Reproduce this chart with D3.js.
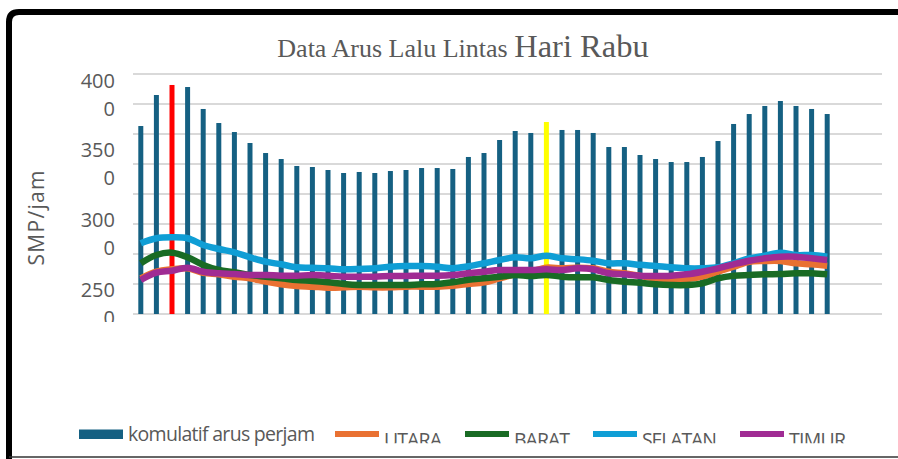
<!DOCTYPE html>
<html><head><meta charset="utf-8">
<script src="https://cdn.jsdelivr.net/npm/d3@7"></script>
<style>body{margin:0;background:#fff;} svg{display:block;}</style>
</head><body>
<svg id="chart" width="898" height="459"></svg>
<script>
// ---- data ----
const periods = [1,2,3,4,5,6,7,8,9,10,11,12,13,14,15,16,17,18,19,20,21,22,23,24,25,26,27,28,29,30,31,32,33,34,35,36,37,38,39,40,41,42,43,44,45];
const komulatif = [3133,3650,3817,3783,3417,3183,3033,2850,2683,2583,2467,2450,2400,2350,2367,2350,2383,2400,2433,2433,2417,2617,2683,2900,3050,3017,3200,3067,3067,3017,2783,2783,2650,2583,2533,2533,2617,2883,3167,3333,3467,3550,3467,3417,3333];
const utara   = [595,705,745,761,688,661,622,595,539,495,467,456,439,444,456,444,444,456,456,456,472,500,528,595,661,705,772,761,772,761,705,678,636,595,578,583,622,705,788,872,883,883,845,828,805];
const barat   = [845,983,1022,945,817,733,695,650,622,595,565,550,528,500,483,483,483,483,495,500,528,570,595,622,650,633,650,622,611,611,567,539,520,495,483,483,511,595,638,650,661,667,678,678,661];
const selatan = [1178,1262,1278,1262,1150,1083,1028,945,872,828,778,772,762,745,750,762,788,800,800,788,762,795,845,900,945,928,972,928,912,888,845,845,820,800,778,761,761,778,845,928,972,1022,983,983,955];
const timur   = [567,688,722,772,705,678,667,650,650,638,638,650,638,622,622,622,633,633,638,638,650,678,705,733,733,733,745,733,761,745,678,661,638,633,638,661,705,761,828,888,928,955,955,928,900];
const peakPeriods = [3, 27];
const yTickLabels = ["4000","3500","3000","2500"];
const gridValues = [0,500,1000,1500,2000,2500,3000,3500,4000];
const barName = "komulatif arus perjam";
const seriesNames = ["UTARA","BARAT","SELATAN","TIMUR"];
const titleA = "Data Arus Lalu Lintas ";
const titleB = "Hari Rabu";
const yTitle = "SMP/jam";

// ---- setup ----
const svg = d3.select("#chart");
const plotL = 133, plotR = 882, plotT = 74, plotB = 314, step = 15.6;
const textCol = "#595959";
const sansFont = "'Open Sans', 'Noto Sans', sans-serif";
const barColor = "#156082";
const peakColors = ["#FF0000", "#FFFF00"];
const lineColors = ["#E97132", "#196B24", "#0F9ED5", "#A02B93"];
const seriesData = [utara, barat, selatan, timur];

const x = d3.scaleBand().domain(periods)
  .range([plotL, plotL + periods.length * step]).paddingInner(0.68).paddingOuter(0.34);
const y = d3.scaleLinear().domain([0, 4000]).range([plotB, plotT]);

// outer frame
svg.append("path").attr("d", "M9,470 V22 Q9,12 19,12 H905")
  .attr("fill", "none").attr("stroke", "#000").attr("stroke-width", 6);
svg.append("line").attr("x1", 9).attr("x2", 898).attr("y1", 457).attr("y2", 457)
  .attr("stroke", "#333").attr("stroke-width", 1.5);

// title
const t = svg.append("text").attr("x", 463).attr("y", 57).attr("text-anchor", "middle")
  .attr("fill", textCol).attr("font-family", "'Liberation Serif', 'Times New Roman', serif");
t.append("tspan").attr("font-size", 26).text(titleA);
t.append("tspan").attr("font-size", 32.5).text(titleB);

// gridlines
svg.append("g").selectAll("line").data(gridValues).join("line")
  .attr("x1", plotL).attr("x2", plotR)
  .attr("y1", d => y(d)).attr("y2", d => y(d))
  .attr("stroke", "#d9d9d9").attr("stroke-width", 2);

// y tick labels (wrapped)
const clip = svg.append("clipPath").attr("id", "tickclip");
clip.append("rect").attr("x", 0).attr("y", 0).attr("width", 130).attr("height", 322);
const lab = d3.scalePoint().domain(yTickLabels).range([87.5, 297]);
const tg = svg.append("g").attr("clip-path", "url(#tickclip)")
  .attr("font-family", sansFont).attr("font-size", 20).attr("fill", textCol).attr("text-anchor", "end");
yTickLabels.forEach(s => {
  const tx = tg.append("text").attr("x", 115).attr("y", lab(s));
  tx.append("tspan").attr("x", 115).text(s.slice(0, -1));
  tx.append("tspan").attr("x", 115).attr("dy", 28).text(s.slice(-1));
});

// y axis title
svg.append("text").attr("transform", "translate(44,218) rotate(-90)")
  .attr("text-anchor", "middle").attr("font-family", sansFont).attr("font-size", 21)
  .attr("fill", textCol).attr("textLength", 95).text(yTitle);

// bars
svg.append("g").selectAll("rect").data(periods).join("rect")
  .attr("x", d => x(d)).attr("width", x.bandwidth())
  .attr("y", (d, i) => y(komulatif[i])).attr("height", (d, i) => y(0) - y(komulatif[i]))
  .attr("fill", d => { const k = peakPeriods.indexOf(d); return k >= 0 ? peakColors[k] : barColor; });

// lines
const line = d3.line().x((v, i) => x(periods[i]) + x.bandwidth() / 2).y(v => y(v))
  .curve(d3.curveCatmullRom.alpha(0.5));
svg.append("g").selectAll("path").data(seriesData).join("path")
  .attr("d", d => line(d)).attr("fill", "none")
  .attr("stroke", (d, i) => lineColors[i]).attr("stroke-width", 6.5)
  .attr("stroke-linejoin", "round");

// legend
const lg = svg.append("g").attr("font-family", sansFont).attr("font-size", 19.5).attr("fill", textCol);
lg.append("rect").attr("x", 79).attr("y", 429.5).attr("width", 44).attr("height", 9.5).attr("fill", barColor);
lg.append("text").attr("x", 128).attr("y", 440.5).attr("textLength", 187).text(barName);
const lclip = svg.append("clipPath").attr("id", "legclip");
lclip.append("rect").attr("x", 0).attr("y", 0).attr("width", 898).attr("height", 443.3);
const legX = [335, 465, 593, 740];
const legW = [58, 56, 75, 57];
seriesNames.forEach((n, i) => {
  lg.append("rect").attr("x", legX[i]).attr("y", 431).attr("width", 44).attr("height", 6).attr("fill", lineColors[i]);
  lg.append("text").attr("clip-path", "url(#legclip)").attr("x", legX[i] + 49).attr("y", 446.8)
    .attr("textLength", legW[i]).text(n);
});
</script>
</body></html>
